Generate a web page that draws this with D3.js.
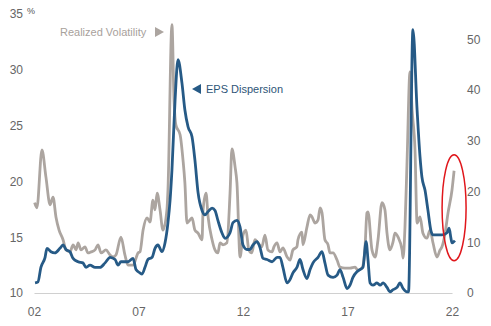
<!DOCTYPE html>
<html>
<head>
<meta charset="utf-8">
<script src="https://cdn.jsdelivr.net/npm/d3@7"></script>
<style>
  body { margin: 0; background: #fff; }
  svg { font-family: "Liberation Sans", Arial, sans-serif; }
</style>
</head>
<body>
<svg id="vis" width="491" height="326"></svg>
<script>
// realized volatility (right axis)
var volDates = [2002.03, 2002.14, 2002.38, 2002.57, 2002.77, 2002.91, 2003.05, 2003.20, 2003.39, 2003.53,
  2003.72, 2003.87, 2004.01, 2004.11, 2004.25, 2004.44, 2004.58, 2004.73, 2004.92, 2005.06,
  2005.21, 2005.44, 2005.64, 2005.78, 2005.92, 2006.16, 2006.35, 2006.50, 2006.74, 2006.98,
  2007.07, 2007.22, 2007.41, 2007.55, 2007.69, 2007.79, 2007.89, 2008.03, 2008.17, 2008.36,
  2008.41, 2008.60, 2008.70, 2008.79, 2008.99, 2009.13, 2009.22, 2009.32, 2009.46, 2009.56,
  2009.70, 2009.85, 2010.04, 2010.09, 2010.23, 2010.33, 2010.52, 2010.66, 2010.80, 2010.90,
  2011.04, 2011.23, 2011.38, 2011.47, 2011.62, 2011.71, 2011.86, 2012.00, 2012.14, 2012.28,
  2012.42, 2012.57, 2012.71, 2012.90, 2013.05, 2013.19, 2013.39, 2013.48, 2013.63, 2013.77,
  2013.91, 2014.11, 2014.25, 2014.39, 2014.58, 2014.63, 2014.82, 2014.87, 2015.06, 2015.21,
  2015.30, 2015.45, 2015.59, 2015.69, 2015.78, 2015.92, 2016.07, 2016.16, 2016.31, 2016.50,
  2016.64, 2016.88, 2017.12, 2017.36, 2017.50, 2017.69, 2017.84, 2017.93, 2017.98, 2018.17,
  2018.32, 2018.46, 2018.65, 2018.79, 2018.89, 2019.03, 2019.18, 2019.27, 2019.42, 2019.61,
  2019.66, 2019.75, 2019.85, 2019.99, 2020.09, 2020.23, 2020.33, 2020.47, 2020.61, 2020.80,
  2020.95, 2021.09, 2021.28, 2021.43, 2021.52, 2021.67, 2021.81, 2022.00, 2022.10];
var volValues = [17.8, 16.8, 28.2, 22.9, 17.4, 18.9, 15.0, 12.4, 10.5, 8.5,
  8.1, 9.5, 8.5, 9.9, 8.5, 9.1, 7.9, 8.1, 8.5, 9.5,
  7.9, 8.5, 7.5, 7.1, 7.5, 11.0, 7.5, 5.5, 5.5, 7.9,
  8.1, 12.4, 14.8, 14.0, 18.3, 16.4, 19.7, 16.4, 12.4, 16.4,
  20.3, 52.9, 38.0, 33.1, 31.2, 26.2, 21.7, 13.8, 14.4, 14.8,
  12.4, 11.8, 10.5, 16.4, 19.7, 15.0, 10.5, 8.5, 7.9, 9.9,
  9.5, 9.9, 19.7, 28.4, 24.9, 21.7, 7.1, 11.4, 12.4, 8.5,
  7.9, 10.5, 9.9, 9.1, 11.4, 8.5, 8.1, 9.1, 9.9, 8.1,
  8.9, 7.1, 6.5, 8.5, 9.1, 10.5, 12.0, 9.5, 13.0, 15.4,
  15.0, 13.8, 14.4, 16.8, 15.8, 10.5, 9.5, 7.9, 7.9, 6.5,
  5.1, 4.9, 4.9, 5.1, 4.5, 4.9, 9.1, 15.8, 16.0, 8.5,
  7.1, 10.5, 17.8, 16.4, 11.8, 8.5, 10.1, 11.8, 11.0, 8.5,
  6.9, 13.0, 26.0, 43.6, 36.1, 28.2, 13.8, 15.0, 11.8, 10.8,
  12.4, 9.9, 7.1, 8.5, 9.1, 11.8, 15.8, 20.3, 24.1];

// EPS dispersion (left axis)
var epsDates = [2002.05, 2002.19, 2002.33, 2002.53, 2002.62, 2002.81, 2003.00, 2003.24, 2003.39, 2003.53,
  2003.72, 2003.87, 2004.11, 2004.34, 2004.49, 2004.68, 2004.92, 2005.16, 2005.40, 2005.64,
  2005.88, 2006.02, 2006.16, 2006.50, 2006.74, 2006.88, 2007.07, 2007.17, 2007.31, 2007.45,
  2007.65, 2007.79, 2007.93, 2008.12, 2008.27, 2008.41, 2008.51, 2008.60, 2008.75, 2008.89,
  2009.08, 2009.22, 2009.37, 2009.56, 2009.70, 2009.85, 2010.04, 2010.18, 2010.33, 2010.52,
  2010.66, 2010.80, 2010.99, 2011.14, 2011.38, 2011.52, 2011.71, 2011.86, 2012.00, 2012.19,
  2012.33, 2012.48, 2012.67, 2012.81, 2012.96, 2013.15, 2013.39, 2013.63, 2013.77, 2013.91,
  2014.11, 2014.25, 2014.39, 2014.58, 2014.73, 2014.87, 2015.06, 2015.21, 2015.35, 2015.59,
  2015.78, 2015.92, 2016.07, 2016.31, 2016.50, 2016.64, 2016.79, 2016.98, 2017.12, 2017.26,
  2017.45, 2017.60, 2017.74, 2017.89, 2017.98, 2018.08, 2018.22, 2018.41, 2018.56, 2018.70,
  2018.89, 2019.03, 2019.18, 2019.37, 2019.51, 2019.66, 2019.85, 2019.92, 2020.13, 2020.33,
  2020.47, 2020.56, 2020.71, 2020.85, 2020.99, 2021.09, 2021.28, 2021.52, 2021.76, 2021.86,
  2021.95, 2022.00, 2022.14];
var epsValues = [10.9, 11.0, 12.3, 13.2, 14.0, 13.7, 13.6, 14.0, 14.3, 13.9,
  13.7, 13.1, 12.8, 12.7, 12.3, 12.5, 12.3, 12.3, 12.7, 13.2,
  13.0, 12.5, 12.8, 12.8, 13.1, 12.1, 11.8, 11.7, 12.3, 13.0,
  13.2, 14.0, 14.3, 13.7, 14.5, 16.3, 18.3, 21.0, 27.3, 30.9,
  28.8, 26.4, 24.9, 24.0, 21.9, 19.0, 17.4, 17.0, 17.3, 17.6,
  17.4, 16.5, 15.4, 14.9, 15.4, 16.3, 16.5, 15.9, 14.3, 13.9,
  13.9, 14.3, 14.6, 14.1, 13.1, 13.0, 12.8, 13.2, 13.2, 12.3,
  10.9, 11.2, 11.8, 12.3, 13.0, 12.1, 11.3, 12.1, 12.7, 13.2,
  13.7, 12.7, 11.6, 11.4, 11.6, 12.1, 11.4, 10.4, 10.7, 11.4,
  11.9, 12.1, 12.3, 14.6, 13.0, 10.9, 10.7, 10.9, 10.7, 10.9,
  10.5, 10.1, 10.3, 10.5, 10.9, 10.4, 10.1, 10.1, 33.6, 26.4,
  22.2, 20.4, 19.2, 17.4, 15.6, 15.2, 15.2, 15.2, 15.4, 15.8,
  14.9, 14.5, 14.7];

var xTicks = [2002, 2007, 2012, 2017, 2022];
var leftTicks = [10, 15, 20, 25, 30, 35];
var rightTicks = [0, 10, 20, 30, 40, 50];

var svg = d3.select("#vis");

var margin = { top: 14, right: 39, bottom: 33, left: 34 };
var width = 491, height = 326;

var x = d3.scaleLinear()
  .domain([2002, 2022])
  .range([margin.left, 452]);

var yLeft = d3.scaleLinear()
  .domain([10, 35])
  .range([height - margin.bottom, margin.top]);

var yRight = d3.scaleLinear()
  .domain([0, 55])
  .range([height - margin.bottom, margin.top]);

// bottom axis
var xAxis = d3.axisBottom(x)
  .tickValues(xTicks)
  .tickSize(0)
  .tickPadding(14)
  .tickFormat(function(d){ return String(d).slice(2); });
var xGroup = svg.append("g")
  .attr("transform", "translate(0," + (height - margin.bottom) + ")")
  .call(xAxis);
xGroup.select(".domain").attr("stroke", "#d0d0d0").attr("stroke-width", 1.2);
xGroup.selectAll("text").attr("fill", "#666").style("font-size", "12px");

// left axis
var lGroup = svg.append("g")
  .attr("transform", "translate(26,0)")
  .call(d3.axisLeft(yLeft).tickValues(leftTicks).tickSize(0).tickPadding(3));
lGroup.select(".domain").remove();
lGroup.selectAll("text").attr("fill", "#666").style("font-size", "12px");

// right axis
var rGroup = svg.append("g")
  .attr("transform", "translate(464,0)")
  .call(d3.axisRight(yRight).tickValues(rightTicks).tickSize(0).tickPadding(3));
rGroup.select(".domain").remove();
rGroup.selectAll("text").attr("fill", "#666").style("font-size", "12px");

svg.append("text")
  .attr("x", 27)
  .attr("y", 14)
  .attr("fill", "#555")
  .style("font-size", "9px")
  .text("%");

// lines
var volLine = d3.line()
  .x(function(d, i){ return x(volDates[i]); })
  .y(function(d){ return yRight(d); })
  .curve(d3.curveMonotoneX);

var epsLine = d3.line()
  .x(function(d, i){ return x(epsDates[i]); })
  .y(function(d){ return yLeft(d); })
  .curve(d3.curveMonotoneX);

svg.append("path")
  .attr("d", volLine(volValues))
  .attr("fill", "none")
  .attr("stroke", "#aca5a0")
  .attr("stroke-width", 2.8)
  .attr("stroke-linejoin", "round");

svg.append("path")
  .attr("d", epsLine(epsValues))
  .attr("fill", "none")
  .attr("stroke", "#265a86")
  .attr("stroke-width", 2.8)
  .attr("stroke-linejoin", "round");

// labels
svg.append("text")
  .attr("x", 60)
  .attr("y", 36)
  .attr("fill", "#a8a19c")
  .style("font-size", "11px")
  .text("Realized Volatility");
svg.append("path")
  .attr("d", "M155,27 L164,32 L155,37 Z")
  .attr("fill", "#aca5a0");

svg.append("path")
  .attr("d", "M201,84 L192,89 L201,94 Z")
  .attr("fill", "#265a86");
svg.append("text")
  .attr("x", 206)
  .attr("y", 93)
  .attr("fill", "#2d5577")
  .style("font-size", "11px")
  .text("EPS Dispersion");

// red highlight around the latest readings
svg.append("ellipse")
  .attr("cx", x(2022.1))
  .attr("cy", yRight(16.8))
  .attr("rx", 12)
  .attr("ry", 53)
  .attr("fill", "none")
  .attr("stroke", "#e0161b")
  .attr("stroke-width", 1.5);
</script>
</body>
</html>
